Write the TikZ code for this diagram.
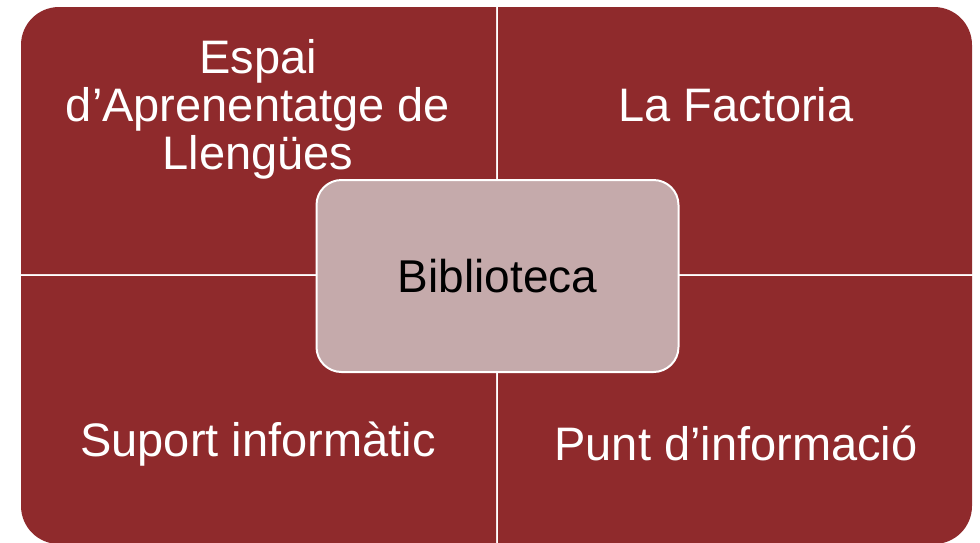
\documentclass[tikz,border=0pt]{standalone}
\usepackage{fontspec}
\setmainfont{Liberation Sans}
\usetikzlibrary{positioning}

\definecolor{quadred}{RGB}{143,42,44}
\definecolor{hubpink}{RGB}{197,170,171}

\begin{document}
\begin{tikzpicture}[x=1pt,y=-1pt,
	quad/.style={fill=quadred},
	quadtext/.style={text=white,align=center,font=\fontsize{47}{48}\selectfont},
	hub/.style={draw=white,line width=2pt,fill=hubpink,rounded corners=25pt,
		minimum width=362pt,minimum height=192pt,font=\fontsize{46}{48}\selectfont}]

	\useasboundingbox (0,0) rectangle (980,542);

	%% the four quarters
	\fill [quad] (21,274) [rounded corners=38pt] -- (21,7) [sharp corners] -- (496,7) -- (496,274) -- cycle;
	\fill [quad] (498,7) [rounded corners=38pt] -- (972,7) [sharp corners] -- (972,274) -- (498,274) -- cycle;
	\fill [quad] (21,276) -- (496,276) -- (496,544) [rounded corners=38pt] -- (21,544) [sharp corners] -- cycle;
	\fill [quad] (498,276) -- (972,276) [rounded corners=38pt] -- (972,544) [sharp corners] -- (498,544) -- cycle;

	\node [quadtext] (espai) at (258,109) {Espai\\d’Aprenentatge de\\Llengües};
	\node [quadtext] (factoria) at (736,105) {La Factoria};
	\node [quadtext] (suport) at (258,444) {Suport informàtic};
	\node [quadtext] (punt) at (736,443) {Punt d’informació};

	%% centre
	\node [hub] (biblio) at (497.5,276) {Biblioteca};

\end{tikzpicture}
\end{document}
